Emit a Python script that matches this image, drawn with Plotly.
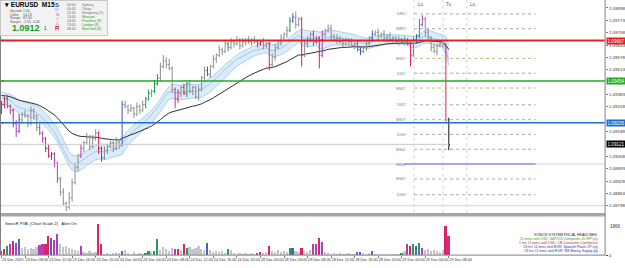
import plotly.graph_objects as go

# ---------------- data ----------------
close = [1.0933,1.0936,1.0932,1.0930,1.0923,1.0919,1.0925,1.0928,1.0927,1.0923,
         1.0930,1.0927,1.0921,1.0918,1.0915,1.0910,1.0906,1.0907,1.0902,1.0894,
         1.0887,1.0881,1.0879,1.0884,1.0892,1.0900,
         1.0906,1.0910,1.0913,1.0916,1.0911,1.0915,1.0918,1.0910,1.0905,1.0909,
         1.0911,1.0913,1.0910,1.0914,1.0912,
         1.0933,1.0932,1.0930,1.0931,1.0928,1.0932,1.0930,1.0933,
         1.0936,1.0939,1.0940,1.0944,1.0947,
         1.0953,1.0956,1.0954,1.0952,
         1.0941,1.0936,1.0939,
         1.0942,1.0939,1.0944,1.0940,1.0942,1.0937,1.0941,
         1.0947,1.0951,1.0949,1.0953,
         1.0957,1.0959,1.0962,1.0961,1.0965,1.0963,
         1.0966,1.0965,1.0967,1.0964,1.0966,1.0967,1.0966,
         1.0967,1.0966,1.0965,1.0966,1.0964,1.0965,
         1.0954,1.0958,
         1.0963,1.0966,1.0968,1.0970,1.0972,
         1.0977,1.0979,1.0975,1.0978,
         1.0959,1.0965,
         1.0967,1.0970,1.0966,1.0968,
         1.0959,
         1.0970,1.0972,1.0973,1.0969,
         1.0967,1.0968,1.0966,1.0965,1.0967,1.0966,1.0964,1.0965,
         1.0962,1.0961,1.0963,1.0965,
         1.0968,1.0970,1.0971,1.0969,1.0970,1.0968,1.0969,
         1.0967,1.0968,1.0966,1.0967,1.0966,1.0967,1.0965,
         1.0959,
         1.0967,1.0969,
         1.0975,1.0978,
         1.0971,1.0968,
         1.0963,1.0961,1.0964,1.0965,
         1.0965,
         1.0925,
         1.0912]
first_open = 1.0930
# wick extensions (pips) beyond body
wick_up = [2,1,2,1,1,2,3,1,2,1, 2,1,1,2,1,1,2,1,1,1, 1,2,1,3,2,2,1,2,1,2,
           1,2,2,1,1,2,1,2,1,2, 1,2,2,1,2,1,2,1,2,1, 2,1,2,2,2,3,2,3,1,1,
           2,1,2,1,2,1,1,2,1,2, 2,1,2,1,2,1,2,1,2,1, 2,1,2,1,2,1,2,1,1,2,
           1,1,2,2,1,2,1,2,2,2, 3,1,1,2,2,1,2,1,1,2, 1,2,2,1,2,1,2,1,1,2,
           1,2,1,1,2,1,2,1,2,1, 2,1,2,1,1,2,1,2,1,1, 2,1,3,2,1,2,1,2,1,1,
           1,0,1]
wick_dn = [2,2,1,2,2,3,1,2,1,2, 1,2,2,1,2,2,1,2,2,2, 2,1,2,1,2,1,2,1,2,1,
           2,1,1,3,2,1,2,1,2,1, 2,1,1,2,1,2,1,2,1,2, 1,2,1,1,2,1,2,1,2,5,
           2,2,1,2,1,2,1,2,1,2, 1,2,1,2,1,2,1,2,1,2, 1,2,1,2,1,2,1,2,1,2,
           1,3,2,2,1,2,1,2,1,1, 2,1,6,1,2,1,2,1,7,1, 2,1,2,1,2,1,2,1,2,1,
           2,1,2,1,2,1,2,1,2,1, 1,2,1,2,1,2,1,2,1,6, 1,2,1,1,2,1,2,1,2,1,
           2,1,3]
volume = [250,350,500,600,750,650,850,400,450,350,
          400,350,450,550,600,600,1000,900,800,1100,
          600,450,500,400,350,300,250,500,200,150,
          250,150,200,1600,600,100,150,100,150,200,
          150,250,300,150,100,200,100,150,100,150,
          250,200,250,850,300,450,350,250,400,350,
          350,300,600,400,450,350,400,500,350,300,
          650,300,200,250,200,250,150,350,300,150,
          100,150,100,150,100,150,100,150,200,150,
          200,500,250,200,300,200,250,200,400,400,
          250,200,400,250,200,300,600,600,900,700,
          200,150,100,150,100,150,100,100,150,100,
          100,200,200,150,100,150,250,100,50,100,
          100,50,100,50,100,100,150,250,600,500,
          600,500,650,400,300,350,250,300,250,200,
          300,1500,1000]
# SonicR PVA class per bar: n normal, R climax bear, G climax bull, B rising bull, P rising bear, K current
pva = ("BRGPRPBnnn" "nnnPPRRBPP" "nnnnnnnPnn" "nnnRRnnnnn" "nBnnnnnnnG"
       "GnGGnnnnnP" "RnRGnnnnnn" "BnnnnnnGnn" "nnnnnnnPRn" "nRnnnnnnGB"
       "nnRnnnPPRP" "nnnnnnnnnn" "nPBnnnBnnn" "nnnnnnGnPR" "GBGPnnnnnn" "nRK")

dragon_seed_high, dragon_seed_mid, dragon_seed_low = 1.0940, 1.0937, 1.0934
trend_seed = 1.0938

price_ticks = [1.09838,1.09773,1.09708,1.09643,1.09578,1.09513,1.09383,
               1.09318,1.09188,1.09058,1.08993,1.08928,1.08863,1.08798]
time_labels = ["23 Dec 2015","23 Dec 08:00","23 Dec 12:00","23 Dec 16:00","23 Dec 20:00",
               "24 Dec 00:00","24 Dec 04:00","24 Dec 08:00","24 Dec 12:00","24 Dec 16:00",
               "24 Dec 20:00","28 Dec 00:00","28 Dec 04:00","28 Dec 08:00","28 Dec 12:00",
               "28 Dec 16:00","28 Dec 20:00","29 Dec 00:00","29 Dec 04:00","29 Dec 08:00"]
time_label_bars = [0,8,16,24,32,40,48,56,64,72,80,88,96,104,112,120,128,136,144,152]

resistance_red = 1.09667
support_green = 1.09454
support_blue = 1.09235
current_price = 1.09121
gray_levels = [1.09017, 1.08798]
pivot_names = ["DR1","WR1","MS1","DS1","MS2","DS2","MS3","DS3","MS4","MS5","DS5"]
pivot_levels = [1.09807,1.09729,1.09573,1.09495,1.09417,1.09329,1.09251,1.09173,1.09095,1.08939,1.08856]
pivot_kind = ["d","d","m","d","m","d","m","d","d","d","d"]
weekly_s1_name, weekly_s1 = "WS1", 1.09017
session_names = ["Lu", "Tu", "Lu"]
session_bars = [140.2, 150.0, 158.1]

# ---------------- derived ----------------
N = len(close)
opens = [first_open] + close[:-1]
high = [max(o, c) + u * 1e-4 for o, c, u in zip(opens, close, wick_up)]
low = [min(o, c) - d * 1e-4 for o, c, d in zip(opens, close, wick_dn)]

def ema(series, period, seed):
    a = 2.0 / (period + 1)
    v, out = seed, []
    for s in series:
        v += a * (s - v)
        out.append(v)
    return out

dr_hi = ema(high, 17, dragon_seed_high)
dr_mid = ema(close, 17, dragon_seed_mid)
dr_lo = ema(low, 17, dragon_seed_low)
trend = ema(close, 45, trend_seed)

W, H = 625, 268
XR = [-0.5, 205.1]
YR = [1.08762, 1.0988]
def px(x): return x / W
def py(y): return 1 - y / H

FONT = "Liberation Sans, Arial"
bar_col = {"n": "#8c8c8c", "R": "#dc1e5a", "G": "#1f9a4e", "B": "#3b57b8", "P": "#b03cb0", "K": "#111111"}
vol_col = {"n": "#c4c4cc", "R": "#e0206a", "G": "#22a05a", "B": "#4a64c0", "P": "#b040b8", "K": "#d0307a"}

fig = go.Figure()

# dragon band
xs = list(range(N))
fig.add_trace(go.Scatter(x=xs, y=dr_lo, mode="lines", line=dict(color="#9cc6ee", width=0.8),
                         hoverinfo="skip", showlegend=False, xaxis="x", yaxis="y"))
fig.add_trace(go.Scatter(x=xs, y=dr_hi, mode="lines", line=dict(color="#9cc6ee", width=0.8),
                         fill="tonexty", fillcolor="rgba(175,210,242,0.45)",
                         hoverinfo="skip", showlegend=False, xaxis="x", yaxis="y"))
fig.add_trace(go.Scatter(x=xs, y=dr_mid, mode="lines", line=dict(color="#8ab9e8", width=0.7),
                         hoverinfo="skip", showlegend=False, xaxis="x", yaxis="y"))
fig.add_trace(go.Scatter(x=xs, y=trend, mode="lines", line=dict(color="#303030", width=1),
                         hoverinfo="skip", showlegend=False, xaxis="x", yaxis="y"))

# price bars (OHLC) grouped by PVA class
for cls, col in bar_col.items():
    bx, by = [], []
    for i in range(N):
        if pva[i] != cls:
            continue
        bx += [i, i, None, i - 0.4, i, None, i, i + 0.4, None]
        by += [low[i], high[i], None, opens[i], opens[i], None, close[i], close[i], None]
    if bx:
        fig.add_trace(go.Scatter(x=bx, y=by, mode="lines", line=dict(color=col, width=1),
                                 hoverinfo="skip", showlegend=False, xaxis="x", yaxis="y"))

# volume bars
fig.add_trace(go.Bar(x=xs, y=volume, marker=dict(color=[vol_col[c] for c in pva], line=dict(width=0)),
                     width=0.6, showlegend=False, hoverinfo="skip", xaxis="x", yaxis="y2"))

shapes = []
shapes.append(dict(type="line", xref="x", yref="y", x0=XR[0], x1=N - 1, y0=current_price, y1=current_price,
                   line=dict(color="#c8c8c8", width=1)))
for g in gray_levels:
    shapes.append(dict(type="line", xref="x", yref="y", x0=XR[0], x1=XR[1], y0=g, y1=g,
                       line=dict(color="#d2d2d6", width=1)))
for b in session_bars:
    shapes.append(dict(type="line", xref="x", yref="paper", x0=b, x1=b, y0=py(215), y1=1,
                       line=dict(color="#d0d0d0", width=1, dash="dot")))
for lv, k in zip(pivot_levels, pivot_kind):
    shapes.append(dict(type="line", xref="x", yref="y", x0=140.2, x1=181.5, y0=lv, y1=lv,
                       line=dict(color="#c8b07a" if k == "m" else "#a4a4c4", width=1, dash="dot")))
shapes.append(dict(type="line", xref="x", yref="y", x0=136.8, x1=181.5, y0=weekly_s1, y1=weekly_s1,
                   line=dict(color="#a8a8ec", width=2)))
for lv, col, w in [(resistance_red, "#e52020", 2), (support_green, "#22aa22", 1.5), (support_blue, "#1c6fd0", 1.5)]:
    shapes.append(dict(type="line", xref="x", yref="y", x0=XR[0], x1=XR[1], y0=lv, y1=lv,
                       line=dict(color=col, width=w)))
    shapes.append(dict(type="rect", xref="paper", yref="y", x0=px(0), x1=px(4), y0=lv - 0.00004, y1=lv + 0.00004,
                       fillcolor=col, line=dict(width=0)))
shapes.append(dict(type="rect", xref="paper", yref="paper", x0=0, x1=px(608), y0=py(219), y1=py(215.5),
                   fillcolor="#a6a6a6", line=dict(width=0)))
shapes.append(dict(type="line", xref="paper", yref="paper", x0=0, x1=px(608), y0=py(258), y1=py(258),
                   line=dict(color="#808080", width=1)))
shapes.append(dict(type="line", xref="paper", yref="paper", x0=px(608), x1=px(608), y0=py(258), y1=1,
                   line=dict(color="#808080", width=1)))
shapes.append(dict(type="line", xref="paper", yref="paper", x0=px(0.5), x1=px(0.5), y0=py(258), y1=1,
                   line=dict(color="#808080", width=1)))
shapes.append(dict(type="rect", xref="paper", yref="paper", x0=px(0.5), x1=px(108), y0=py(36), y1=py(0.5),
                   fillcolor="#f2f2f2", line=dict(color="#c8c8c8", width=1)))

ann = []
def t(x, y, s, size=4.5, color="#333", xa="left", bold=False, bg=None, xref="paper", yref="paper"):
    d = dict(x=x, y=y, xref=xref, yref=yref, text=("<b>%s</b>" % s) if bold else s, showarrow=False,
             xanchor=xa, yanchor="middle", font=dict(size=size, color=color, family=FONT))
    if bg:
        d.update(bgcolor=bg, borderpad=0.5)
    ann.append(d)

# info panel contents
t(px(2), py(5), "▾ EURUSD  M15", 6.5, "#000", bold=True)
for k, (lab, val) in enumerate([("Spread:", "1.50"), ("Lotfix:", "14.13"), ("Range:", "87.00"), ("Swaps:", "-2.55  0.26")]):
    t(px(8), py(11 + k * 3.8), lab, 3.5, "#555")
    t(px(21), py(11 + k * 3.8), val, 3.5, "#555")
t(px(10), py(28), "1.0912", 9, "#1a9a1a", bold=True)
t(px(42), py(29), "1", 4.5, "#333")
for k, (ch, col) in enumerate(zip("SONICR", ["#3040c0", "#6060a0", "#7070a0", "#b06060", "#e05050", "#e01010"])):
    t(px(57.5), py(5 + k * 4.6), ch, 6 if k in (0, 5) else 4.3, col, xa="center", bold=k in (0, 5))
for k, (tm, nm) in enumerate([("00:45", "Sydney"), ("00:45", "Tokyo"), ("22:45", "Hongkong (1)"), ("13:45", "Moscow"),
                              ("13:45", "Frankfurt (F)"), ("13:45", "London (8)"), ("08:45", "NewYork (8)")]):
    col = "#777" if k < 3 else "#22a022"
    t(px(65), py(5 + k * 4), tm, 3.5, "#666")
    t(px(80), py(5 + k * 4), nm, 3.5, col)

# axis value boxes
for lv, col in [(resistance_red, "#e52020"), (support_green, "#22aa22"), (support_blue, "#1c6fd0"), (current_price, "#000")]:
    t(px(608.5), lv, "%.5f" % lv, 4.6, "#fff", bg=col, yref="y")

# pivot labels
for nm, lv in zip(pivot_names, pivot_levels):
    t(138.5, lv, nm + "°", 4.2, "#7a7a90", xa="right", xref="x", yref="y")
t(138.5, weekly_s1, weekly_s1_name + "°", 4.2, "#6a6ac0", xa="right", xref="x", yref="y")
for nm, b in zip(session_names, session_bars):
    t(b + 0.5, py(5), nm, 4.5, "#555", xref="x")

# volume panel texts
t(px(3), py(226), "SonicR PVA  (Chart Scale 2)   Alert On", 4.2, "#222")
t(px(611), py(229), "1866", 4.5, "#333")
heads = [("SONICR SYSTEM FISCAL HEADLINES", "#222"),
         ("11 mins until USD: S&P/CS Composite-20 HPI y/y", "#1f9a2a"),
         ("1 hrs 11 mins until USD: CB Consumer Confidence", "#d0202a"),
         ("13 hrs 11 mins until EUR: Spanish Flash CPI y/y", "#2030b0"),
         ("13 hrs 11 mins until EUR: M3 Money Supply y/y", "#2030b0")]
for k, (s, col) in enumerate(heads):
    t(px(603), py(237.5 + k * 4.2), s, 3.5, col, xa="right")

fig.update_layout(
    width=W, height=H, margin=dict(l=0, r=0, t=0, b=0),
    paper_bgcolor="#ffffff", plot_bgcolor="#ffffff",
    showlegend=False, bargap=0, shapes=shapes, annotations=ann,
    xaxis=dict(domain=[0, px(608)], range=XR, anchor="y2", showgrid=False, zeroline=False,
               tickvals=time_label_bars, ticktext=time_labels, ticklabelposition="outside right",
               tickangle=0, ticks="outside", ticklen=2, tickcolor="#808080",
               tickfont=dict(size=3.8, color="#333", family=FONT)),
    yaxis=dict(domain=[py(215), 1], range=YR, side="right", anchor="x", showgrid=False, zeroline=False,
               tickvals=price_ticks, ticktext=["%.5f" % v for v in price_ticks],
               ticks="outside", ticklen=2, tickcolor="#808080",
               tickfont=dict(size=4.4, color="#333", family=FONT)),
    yaxis2=dict(domain=[py(258), py(221)], range=[0, 1880], side="right", anchor="x", showgrid=False,
                zeroline=False, tickvals=[0], ticktext=["0"], ticks="outside", ticklen=2,
                tickfont=dict(size=4.4, color="#333", family=FONT)),
)
fig.write_html("out.html")
